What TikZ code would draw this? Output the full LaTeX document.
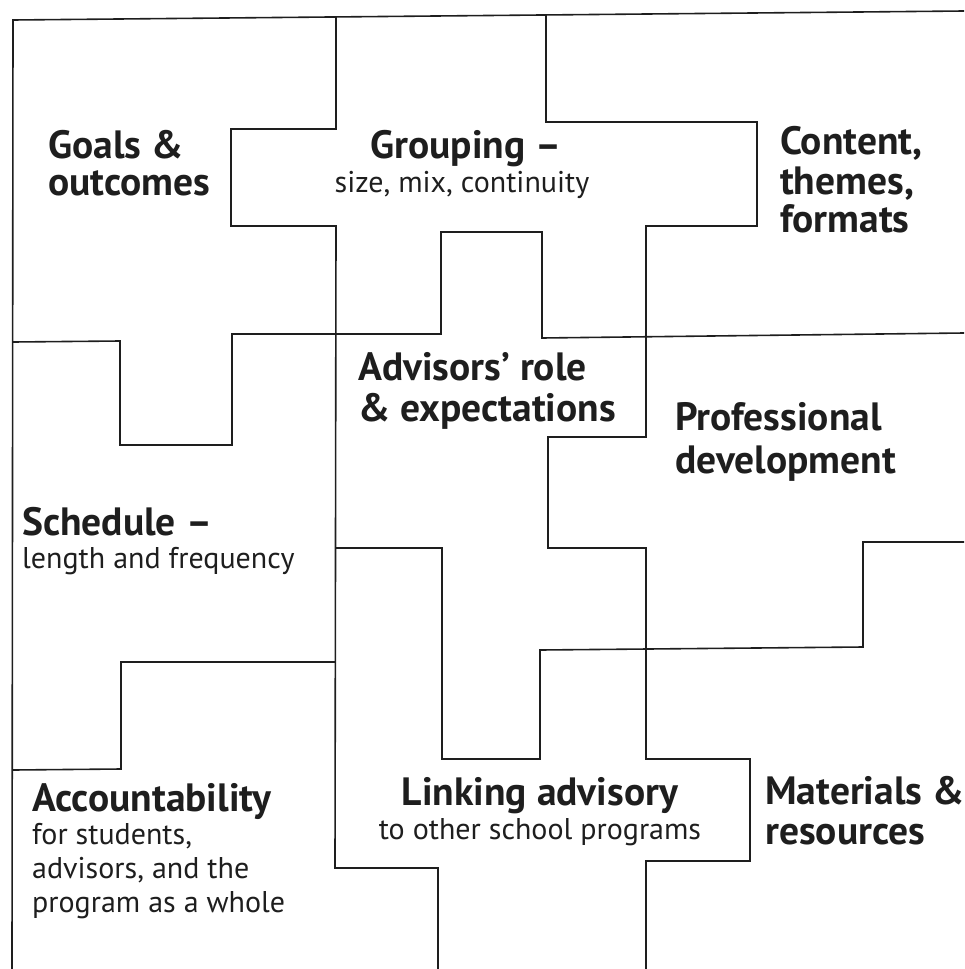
\documentclass[tikz,border=0pt]{standalone}
\usepackage{fontspec}
\setmainfont{PT Sans}
\definecolor{ink}{HTML}{1E1E1E}
\begin{document}
\begin{tikzpicture}[x=1pt,y=-1pt,
  cut/.style={draw=ink, line width=1.6pt, line join=miter},
  ttl/.style={font=\fontsize{39.5}{42}\selectfont\bfseries, text=ink, inner sep=0pt},
  sub/.style={font=\fontsize{30}{33}\selectfont, text=ink, inner sep=0pt}]
\useasboundingbox (0,0) rectangle (964,969);
% outer frame
\draw[cut] (964,11) -- (13,20) -- (12,969);
% Goals / Grouping / Advisors / Linking boundary
\draw[cut] (336,17) -- (336,129) -- (231,129) -- (231,226) -- (336,226) -- (335,868) -- (438,868) -- (438,969);
% Goals|Schedule, Grouping|Advisors, Content|Professional
\draw[cut] (13,342) -- (120,341) -- (120,445) -- (232,445) -- (232,334) -- (441,334) -- (441,232) -- (542,232) -- (542,338) -- (964,333);
% Grouping|Content, Advisors|Professional, Linking|Materials
\draw[cut] (546,15) -- (546,122) -- (757,122) -- (757,226) -- (646,226) -- (646,437) -- (548,437) -- (548,548) -- (646,548) -- (646,759) -- (750,759) -- (750,861) -- (646,861) -- (646,969);
% Advisors|Linking, Professional|Materials
\draw[cut] (335,548) -- (442,548) -- (442,759) -- (540,759) -- (540,650) -- (863,647) -- (863,542) -- (964,542);
% Schedule|Accountability
\draw[cut] (13,770) -- (121,769) -- (121,662) -- (335,662);

% texts
\node[ttl, anchor=base west] (g1) at (48,158) {Goals \&};
\node[ttl, anchor=base west] (g2) at (48,195) {outcomes};

\node[ttl, anchor=base] (gr1) at (466,158) {Grouping –};
\node[sub, anchor=base] (gr2) at (462,192) {size, mix, continuity};

\node[ttl, anchor=base west] (c1) at (780,154) {Content,};
\node[ttl, anchor=base west] (c2) at (780,194) {themes,};
\node[ttl, anchor=base west] (c3) at (780,232) {formats};

\node[ttl, anchor=base west] (a1) at (358,380) {Advisors’ role};
\node[ttl, anchor=base west] (a2) at (358,421) {\& expectations};

\node[ttl, anchor=base west] (p1) at (675,430) {Professional};
\node[ttl, anchor=base west] (p2) at (675,473) {development};

\node[ttl, anchor=base west] (s1) at (22,535) {Schedule –};
\node[sub, anchor=base west] (s2) at (22,568) {length and frequency};

\node[ttl, anchor=base west] (ac1) at (32,811) {Accountability};
\node[sub, anchor=base west] (ac2) at (32,844) {for students,};
\node[sub, anchor=base west] (ac3) at (32,878) {advisors, and the};
\node[sub, anchor=base west] (ac4) at (32,912) {program as a whole};

\node[ttl, anchor=base] (l1) at (540,805) {Linking advisory};
\node[sub, anchor=base] (l2) at (540,839) {to other school programs};

\node[ttl, anchor=base west] (m1) at (765,804) {Materials \&};
\node[ttl, anchor=base west] (m2) at (765,844) {resources};
\end{tikzpicture}
\end{document}
